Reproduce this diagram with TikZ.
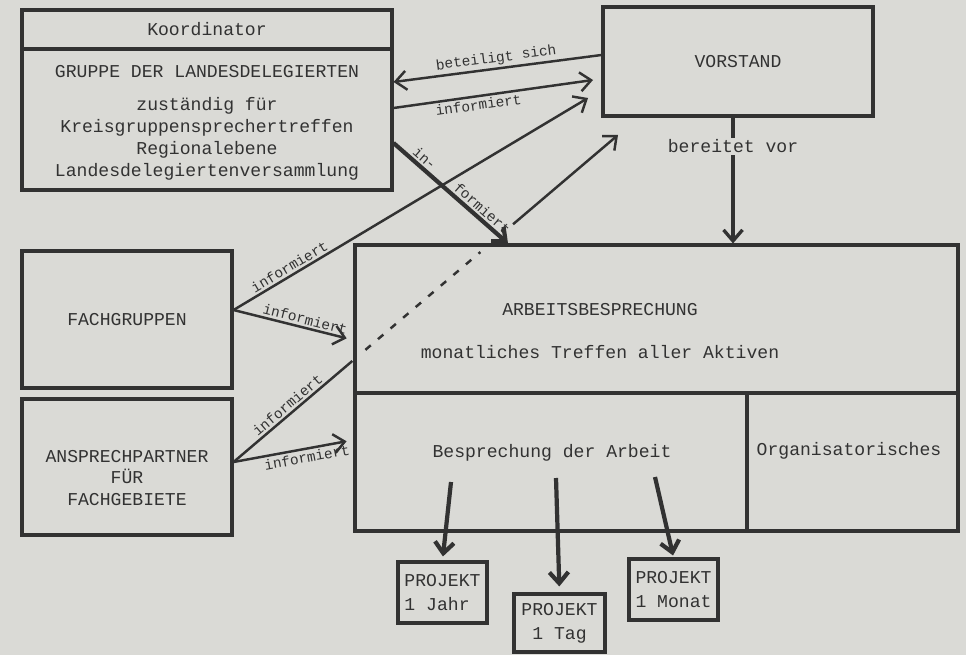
\documentclass[tikz,border=0pt]{standalone}
\usepackage{fontspec}
\setmonofont{Liberation Mono}
\usetikzlibrary{arrows.meta,calc}
\definecolor{paper}{RGB}{218,218,214}
\definecolor{ink}{RGB}{50,50,50}
\newcommand{\tyfont}{\ttfamily\fontsize{10.3}{12.5}\selectfont}
\newcommand{\tysmall}{\ttfamily\fontsize{8.2}{10}\selectfont}

\begin{document}
\begin{tikzpicture}[x=0.02cm,y=-0.02cm,
    box/.style={draw=ink,line width=1.8pt,inner sep=0pt,text=ink,font=\tyfont,align=center},
    txt/.style={text=ink,font=\tyfont,align=center,inner sep=0pt},
    lbl/.style={text=ink,font=\tysmall,inner sep=1.2pt},
    plain/.style={draw=ink,line width=1.4pt},
    flow/.style={plain,-{Straight Barb[length=2.2mm,width=3.8mm]}},
    heavy/.style={flow,line width=2.4pt}]
    \fill[paper] (0,0) rectangle (966,655);
    \useasboundingbox (0,0) rectangle (966,655);

    \node[box,minimum width=7.4cm,minimum height=0.78cm] (koord) at (207,29.5) {Koordinator};
    \node[box,minimum width=7.4cm,minimum height=2.82cm] (gruppe) at (207,119.5) {};
    \node[txt] (gruppeT) at (207,123) {GRUPPE DER LANDESDELEGIERTEN\\[6.2pt]
        zuständig für\\Kreisgruppensprechertreffen\\Regionalebene\\Landesdelegiertenversammlung};
    \node[box,minimum width=5.4cm,minimum height=2.18cm] (vorstand) at (738,61.5) {VORSTAND};
    \node[box,minimum width=12.06cm,minimum height=2.96cm] (arbeit) at (656.5,319) {};
    \node[txt] (arbeitT) at (600,331) {ARBEITSBESPRECHUNG\\[11.9pt]monatliches Treffen aller Aktiven};
    \node[box,minimum width=7.84cm,minimum height=2.76cm] (bespr) at (551,462) {};
    \node[txt] (besprT) at (552,453) {Besprechung der Arbeit};
    \node[box,minimum width=4.22cm,minimum height=2.76cm] (orga) at (852.5,462) {};
    \node[txt] (orgaT) at (849,451) {Organisatorisches};
    \node[box,minimum width=4.2cm,minimum height=2.74cm] (fach) at (127,319.5) {FACHGRUPPEN};
    \node[box,minimum width=4.2cm,minimum height=2.72cm] (ansp) at (127,467) {};
    \node[txt] (anspT) at (127,478) {ANSPRECHPARTNER\\FÜR\\FACHGEBIETE};
    \node[box,align=left,minimum width=1.78cm,minimum height=1.22cm] (pjahr) at (442.5,592.5) {PROJEKT\\[1pt]1 Jahr};
    \node[box,minimum width=1.82cm,minimum height=1.16cm] (ptag) at (559.5,623) {PROJEKT\\[1pt]1 Tag};
    \node[box,minimum width=1.78cm,minimum height=1.22cm] (pmonat) at (673.5,589.5) {PROJEKT\\[1pt]1 Monat};

    \coordinate (v1) at (593,80);
    \coordinate (v2) at (588,98);
    \coordinate (v3) at (618,135);
    \coordinate (a0) at (ansp.east |- 0,462);
    \coordinate (b1) at (451,482);
    \coordinate (b2) at (556,478);
    \coordinate (b3) at (655,477);

    \draw[flow] (vorstand.west |- 0,55) -- (gruppe.east |- 0,82)
        node[lbl,midway,above,sloped] {beteiligt sich};
    \draw[flow] (gruppe.east |- 0,108) -- (v1) node[lbl,pos=0.42,below,sloped] {informiert};
    \draw[heavy] (gruppe.east |- 0,143) -- (arbeit.north -| 508,0)
        node[lbl,pos=0.22,above,sloped] {in-} node[lbl,pos=0.72,above,sloped] {formiert};
    \draw[flow,line width=1.9pt] (vorstand.south -| 733,0) -- (arbeit.north -| 733,0)
        node[txt,pos=0.23,fill=paper,inner sep=1pt] {bereitet vor};

    \draw[flow] (fach.east |- 0,310) -- (v2) node[lbl,pos=0.17,above,sloped] {informiert};
    \draw[flow,shorten >=0.14cm] (fach.east |- 0,310) -- (arbeit.west |- 0,340)
        node[lbl,pos=0.58,above,sloped] {informiert};

    \draw[plain] (a0) -- ($(a0)!0.309!(v3)$) node[lbl,pos=0.5,above,sloped] {informiert};
    \draw[plain,dash pattern=on 1.4mm off 1.9mm] ($(a0)!0.343!(v3)$) -- ($(a0)!0.642!(v3)$);
    \draw[flow] ($(a0)!0.727!(v3)$) -- (v3);
    \draw[flow,shorten >=0.14cm] (a0) -- (bespr.west |- 0,440)
        node[lbl,pos=0.6,below,sloped] {informiert};

    \draw[heavy,shorten >=0.08cm] (b1) -- (pjahr.north);
    \draw[heavy,shorten >=0.12cm] (b2) -- (ptag.north);
    \draw[heavy,shorten >=0.04cm] (b3) -- (pmonat.north);
\end{tikzpicture}
\end{document}
